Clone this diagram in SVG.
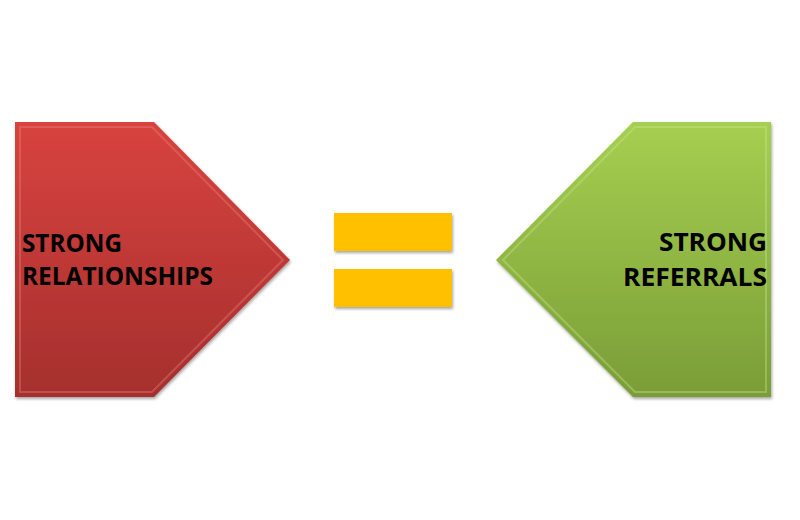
<svg xmlns="http://www.w3.org/2000/svg" width="800" height="520" viewBox="0 0 800 520">
<defs>
<linearGradient id="gr" x1="0" y1="0" x2="0" y2="1"><stop offset="0" stop-color="#d8433f"/><stop offset="1" stop-color="#a52f2d"/></linearGradient>
<linearGradient id="gg" x1="0" y1="0" x2="0" y2="1"><stop offset="0" stop-color="#a6cf50"/><stop offset="1" stop-color="#7a9d37"/></linearGradient>
<filter id="sh" x="-10%" y="-10%" width="120%" height="120%"><feDropShadow dx="1" dy="2" stdDeviation="1.5" flood-color="#000" flood-opacity="0.35"/></filter>
<style>
.lbl{font-family:"Open Sans","Liberation Sans",sans-serif;font-weight:bold;font-size:25px;fill:#000}
.bar{fill:#ffc000;filter:url(#sh)}
.bev{fill:none;stroke-width:2;stroke-opacity:0.35}
</style>
</defs>
<g id="left-node">
<path d="M15,122 L154,122 L290,260 L154,397 L15,397 Z" fill="url(#gr)" filter="url(#sh)"/>
<path d="M20,127 L152,127 L283,260 L152,392 L20,392 Z" class="bev" stroke="#ee8a86"/>
<text class="lbl" x="22" y="252" textLength="100" lengthAdjust="spacingAndGlyphs">STRONG</text>
<text class="lbl" x="22" y="285" textLength="191" lengthAdjust="spacingAndGlyphs">RELATIONSHIPS</text>
</g>
<g id="equals">
<rect class="bar" x="334" y="213" width="118" height="38"/>
<rect class="bar" x="334" y="269" width="118" height="38"/>
</g>
<g id="right-node">
<path d="M771,122 L633,122 L496,260 L633,397 L771,397 Z" fill="url(#gg)" filter="url(#sh)"/>
<path d="M766,127 L635,127 L503,260 L635,392 L766,392 Z" class="bev" stroke="#cfe89a"/>
<text class="lbl" x="767" y="251" text-anchor="end" textLength="108" lengthAdjust="spacingAndGlyphs">STRONG</text>
<text class="lbl" x="767" y="286" text-anchor="end" textLength="144" lengthAdjust="spacingAndGlyphs">REFERRALS</text>
</g>
<g id="connectors"/>
</svg>
